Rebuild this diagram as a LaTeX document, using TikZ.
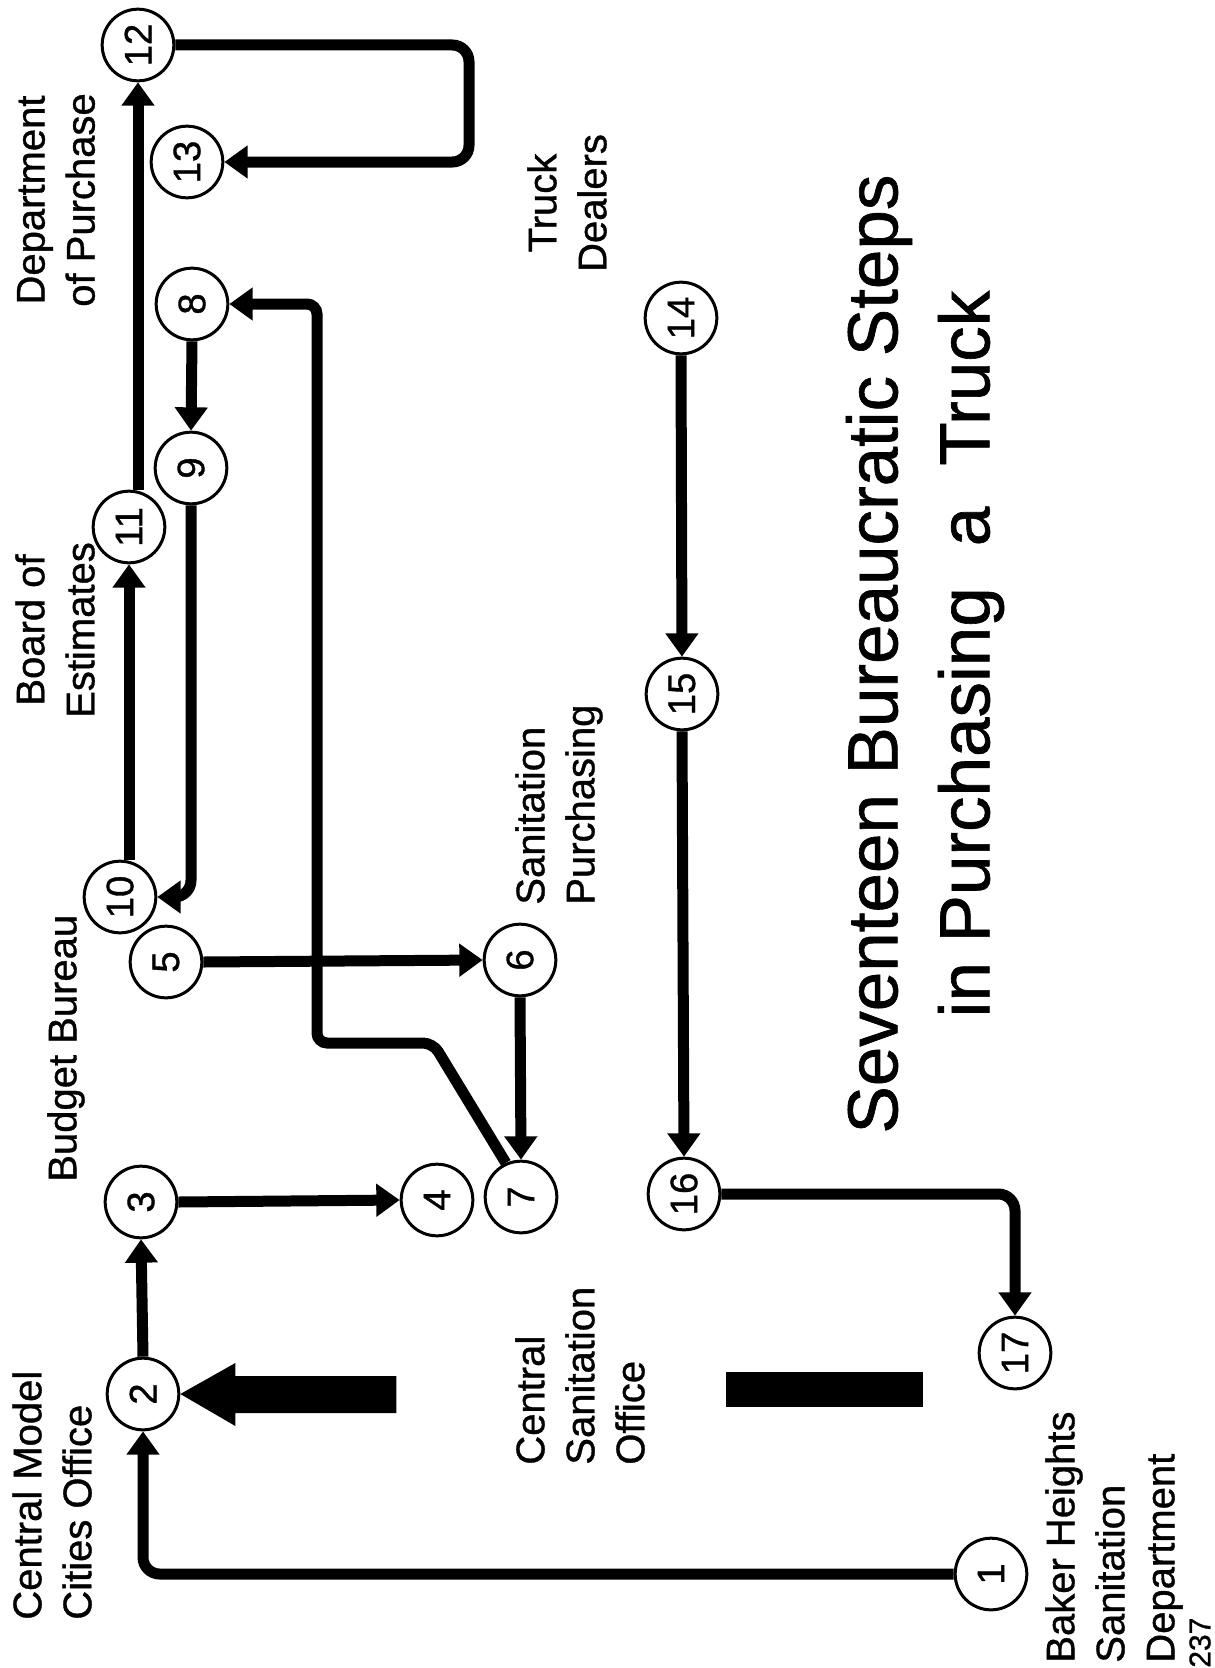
\documentclass[tikz,border=0pt]{standalone}
\usepackage{fontspec}
\usepackage{graphicx}
\setmainfont{Liberation Sans}[FakeBold=0.9]
\usetikzlibrary{arrows.meta}
\newcommand{\rotnum}[1]{\rotatebox{90}{#1}}
\begin{document}
\begin{tikzpicture}[x=0.6pt,y=-0.6pt,
  stepnode/.style={circle,draw,line width=1.8pt,minimum size=43pt,inner sep=0pt,fill=white,font=\fontsize{23}{26}\selectfont},
  flow/.style={line width=6.6pt,-{Triangle[length=14pt,width=19pt]},rounded corners=10pt},
  lbl/.style={rotate=90,inner sep=0pt,font=\fontsize{24}{30}\selectfont},
  blackshape/.style={fill=black,draw=none}
]
\fill[white] (0,0) rectangle (1214,1668);
\useasboundingbox (0,0) rectangle (1214,1668);

% nodes
\node[stepnode] (n1) at (991,1574) {\rotnum{1}};
\node[stepnode] (n2) at (143,1394) {\rotnum{2}};
\node[stepnode] (n3) at (141,1202) {\rotnum{3}};
\node[stepnode] (n4) at (437,1200) {\rotnum{4}};
\node[stepnode] (n5) at (166,962) {\rotnum{5}};
\node[stepnode] (n6) at (520,960) {\rotnum{6}};
\node[stepnode] (n7) at (521,1197) {\rotnum{7}};
\node[stepnode] (n8) at (192,304) {\rotnum{8}};
\node[stepnode] (n9) at (191,468) {\rotnum{9}};
\node[stepnode] (n10) at (120,897) {\rotnum{10}};
\node[stepnode] (n11) at (129,527) {\rotnum{11}};
\node[stepnode] (n12) at (138,45) {\rotnum{12}};
\node[stepnode] (n13) at (187,162) {\rotnum{13}};
\node[stepnode] (n14) at (681,318) {\rotnum{14}};
\node[stepnode] (n15) at (682,694) {\rotnum{15}};
\node[stepnode] (n16) at (684,1194) {\rotnum{16}};
\node[stepnode] (n17) at (1015,1353) {\rotnum{17}};

% helper coordinates
\coordinate (k1) at (433,1043);
\coordinate (k2) at (317,1043);
\coordinate (k3) at (317,304);
\coordinate (r1213) at (469,100);

% connectors
\draw[flow] (n1.west) -| (n2.south);
\draw[flow] (n2.north) -- (n3.south);
\draw[flow] (n3.east) -- (n4.west);
\draw[flow] (n5.east) -- (n6.west);
\draw[flow] (n6.south) -- (n7.north);
\draw[flow,rounded corners=6pt] (n7.114) -- (k1) -- (k2) -- (k3) -- (n8.east);
\draw[flow] (n8.south) -- (n9.north);
\draw[flow] (n9.south) |- (n10.east);
\draw[flow] (n10.north -| n11.south) -- (n11.south);
\draw[flow] (n11.north -| n12.south) -- (n12.south);
\draw[flow] (n12.east) -| (r1213) |- (n13.east);
\draw[flow] (n14.south) -- (n15.north);
\draw[flow] (n15.south) -- (n16.north);
\draw[flow] (n16.east) -| (n17.north);

% big arrow into node 2 and the black bar
\fill[blackshape] (n2.east) -- ++(55,-31) -- ++(0,13) -- ++(161,0) -- ++(0,37) -- ++(-161,0) -- ++(0,13) -- cycle;
\fill[blackshape] (726,1372) rectangle (923,1407);

% labels
\node[lbl,anchor=west,align=left] (lcmc) at (52,1620) {Central Model\\Cities Office};
\node[lbl,anchor=west] (lbb) at (66,1182) {Budget Bureau};
\node[lbl,align=center] (lboe) at (55,630) {Board of\\Estimates};
\node[lbl,align=center] (ldp) at (56,200) {Department\\of Purchase};
\node[lbl,align=center] (ltd) at (567,203) {Truck\\Dealers};
\node[lbl,anchor=west,align=left] (lsp) at (559,905) {Sanitation\\Purchasing};
\node[lbl,anchor=west,align=left] (lcso) at (580,1465) {Central\\Sanitation\\Office};
\node[lbl,anchor=west,align=left] (lbh) at (1114,1663) {Baker Heights\\Sanitation\\Department};
\node[rotate=90,align=center,inner sep=0pt,font=\fontsize{42.6}{55.2}\selectfont] (title) at (925,654) {Seventeen Bureaucratic Steps\\in Purchasing\hspace{0.3em} a\hspace{0.3em} Truck};
\node[lbl,anchor=west,font=\fontsize{18}{20}\selectfont] (pg) at (1200,1668) {237};
\end{tikzpicture}
\end{document}
